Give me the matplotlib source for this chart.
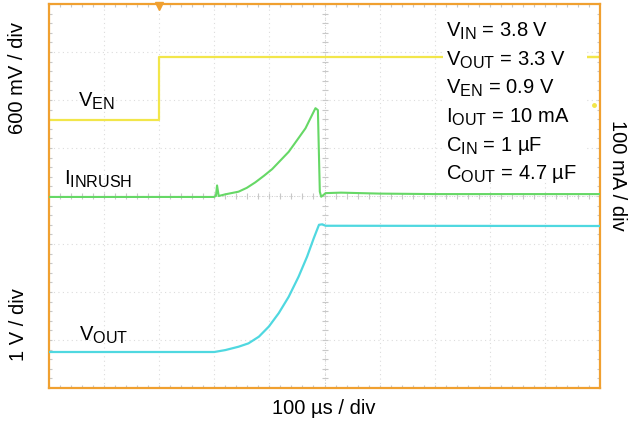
import matplotlib
matplotlib.use("Agg")
import matplotlib.pyplot as plt
import matplotlib._mathtext as _mt
import numpy as np

_mt.SHRINK_FACTOR = 0.8

plt.rcParams['font.family'] = ['Liberation Sans', 'DejaVu Sans']
plt.rcParams['mathtext.fontset'] = 'custom'
plt.rcParams['mathtext.rm'] = 'Liberation Sans'
plt.rcParams['mathtext.it'] = 'Liberation Sans'

# Traces in screen divisions (x: 0..10 div, y: 0..8 div)
t_ven = [0.0, 2.0, 2.0, 10.0]
v_ven = [5.58, 5.58, 6.90, 6.90]

t_inrush = [0.0, 2.99, 3.03, 3.05, 3.08, 3.2, 3.44, 3.59, 3.745, 3.90, 4.05, 4.2, 4.35, 4.50, 4.655,
            4.745, 4.836, 4.88, 4.915, 4.94, 4.98, 5.02, 5.3, 6.0, 7.0, 8.0, 9.0, 10.0]
i_inrush = [3.98, 3.98, 4.0, 4.22, 4.0, 4.035, 4.09, 4.17, 4.285, 4.42, 4.56, 4.74, 4.92, 5.16, 5.41,
            5.62, 5.83, 5.79, 4.09, 3.985, 4.02, 4.06, 4.07, 4.05, 4.04, 4.04, 4.04, 4.04]

t_vout = [0.0, 3.0, 3.2, 3.44, 3.62, 3.81, 3.99, 4.17, 4.35, 4.53, 4.685, 4.805, 4.9, 4.96, 5.02, 10.0]
v_vout = [0.75, 0.75, 0.79, 0.86, 0.93, 1.07, 1.28, 1.56, 1.90, 2.32, 2.74, 3.12, 3.40, 3.41, 3.38, 3.375]

labels_params = ["V$_{\\mathrm{IN}}$ = 3.8 V", "V$_{\\mathrm{OUT}}$ = 3.3 V", "V$_{\\mathrm{EN}}$ = 0.9 V",
                 "I$_{\\mathrm{OUT}}$ = 10 mA", "C$_{\\mathrm{IN}}$ = 1 µF", "C$_{\\mathrm{OUT}}$ = 4.7 µF"]

W, H = 634, 423
fig = plt.figure(figsize=(W / 100, H / 100), dpi=100)
L, R, T, B = 49, 600, 4, 388
ax = fig.add_axes([L / W, 1 - B / H, (R - L) / W, (B - T) / H])
ax.set_xlim(0, 10)
ax.set_ylim(0, 8)

orange = '#F0A030'
for s in ax.spines.values():
    s.set_color(orange)
    s.set_linewidth(1.6)

ax.set_xticks([])
ax.set_yticks([])

# faint dotted grid
for x in range(1, 10):
    ax.axvline(x, color='#dcdcdc', lw=0.8, ls=(0, (1, 3)), zorder=0)
for y in range(1, 8):
    ax.axhline(y, color='#dcdcdc', lw=0.8, ls=(0, (1, 3)), zorder=0)

# minor ticks on border and center lines
tick_col = '#c8c8c8'
minor = np.arange(0, 10.01, 0.2)
minor_y = np.arange(0, 8.01, 0.2)
ax.plot(minor, np.full_like(minor, 8), ls='none', marker='|', ms=5, color=tick_col, mew=0.8)
ax.plot(minor, np.full_like(minor, 0), ls='none', marker='|', ms=5, color=tick_col, mew=0.8)
ax.plot(minor, np.full_like(minor, 4), ls='none', marker='|', ms=5, color=tick_col, mew=0.8)
ax.plot(np.full_like(minor_y, 0), minor_y, ls='none', marker='_', ms=5, color=tick_col, mew=0.8)
ax.plot(np.full_like(minor_y, 10), minor_y, ls='none', marker='_', ms=5, color=tick_col, mew=0.8)
ax.plot(np.full_like(minor_y, 5), minor_y, ls='none', marker='_', ms=5, color=tick_col, mew=0.8)
ax.axvline(5, color='#c8c8c8', lw=0.6, ls=(0, (1, 2)), zorder=0)
ax.axhline(4, color='#c8c8c8', lw=0.6, ls=(0, (1, 2)), zorder=0)

# traces
ax.plot(t_ven, v_ven, color='#F2E64A', lw=1.6, zorder=2)
ax.plot(t_inrush, i_inrush, color='#66D866', lw=1.5, zorder=3)
ax.plot(t_vout, v_vout, color='#4FD8E0', lw=1.6, zorder=3)

# trigger marker & channel markers
ax.plot([2.0], [7.96], marker='v', ms=6, color=orange, clip_on=False, zorder=5)
ax.plot([9.78, 9.98], [6.90, 6.90], color='#F2E64A', lw=1.6, zorder=2)
ax.plot([9.9], [5.9], marker='o', ms=2.5, color='#F2E64A', zorder=2)

# trace labels
fs = 14.5
ax.text(0.52, 5.97, "V$_{\\mathrm{EN}}$", fontsize=fs, va='center', ha='left')
ax.text(0.28, 4.35, "I$_{\\mathrm{INRUSH}}$", fontsize=fs, va='center', ha='left')
ax.text(0.55, 1.1, "V$_{\\mathrm{OUT}}$", fontsize=fs, va='center', ha='left')

# parameter block
ax.add_patch(plt.Rectangle((7.15, 4.35), 2.62, 3.55, facecolor='white', edgecolor='none', zorder=4))
y0 = 7.43
for k, s in enumerate(labels_params):
    ax.text(7.2, y0 - k * 0.595, s, fontsize=fs, va='center', ha='left', zorder=6)

# axis labels
fig.text(18 / W, 1 - 78 / H, "600 mV / div", rotation=90, fontsize=fs, ha='center', va='center')
fig.text(18 / W, 1 - 325 / H, "1 V / div", rotation=90, fontsize=fs, ha='center', va='center')
fig.text(617 / W, 1 - 175 / H, "100 mA / div", rotation=-90, fontsize=fs, ha='center', va='center')
fig.text(324 / W, 1 - 408 / H, "100 µs / div", fontsize=fs, ha='center', va='center')

fig.savefig("out.png", dpi=100)
